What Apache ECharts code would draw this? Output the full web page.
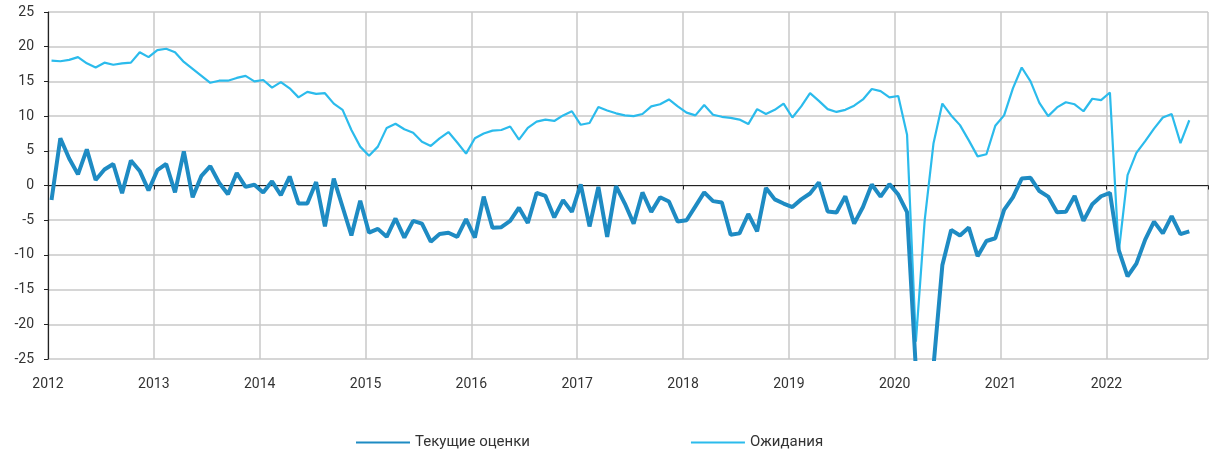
<!DOCTYPE html>
<html>
<head>
	<meta charset="utf-8" />
	<title>Индекс бизнес-климата</title>
	<script src="https://cdn.jsdelivr.net/npm/echarts@6/dist/echarts.min.js"></script>
	<style>
		html, body { margin: 0; padding: 0; background: #fff; }
		#chart { width: 1211px; height: 452px; }
	</style>
</head>
<body>
<div id="chart"></div>
<script type="text/javascript">
	// месячные данные, январь 2012 - октябрь 2022
	var startYear = 2012;
	var yearTicks = ['2012','2013','2014','2015','2016','2017','2018','2019','2020','2021','2022'];

	var current = [
		-2.1, 6.8, 3.9, 1.6, 5.2, 0.8, 2.3, 3.1, -1.1, 3.6, 2.1, -0.7,
		2.2, 3.1, -1.0, 4.9, -1.7, 1.4, 2.8, 0.4, -1.25, 1.8, -0.2, 0.1,
		-1.0, 0.6, -1.4, 1.3, -2.6, -2.6, 0.5, -5.9, 1.0, -3.1, -7.2, -2.2,
		-6.8, -6.25, -7.4, -4.75, -7.5, -5.1, -5.5, -8.1, -7.0, -6.8, -7.4, -4.85,
		-7.5, -1.6, -6.1, -6.0, -5.1, -3.2, -5.4, -1.05, -1.5, -4.6, -2.1, -3.8,
		0.15, -5.9, -0.2, -7.4, -0.1, -2.6, -5.5, -1.0, -3.8, -1.7, -2.3, -5.2,
		-5.0, -3.0, -1.0, -2.25, -2.45, -7.1, -6.9, -4.1, -6.6, -0.35, -2.0, -2.6,
		-3.1, -2.0, -1.15, 0.45, -3.75, -3.9, -1.55, -5.5, -3.1, 0.15, -1.6, 0.2,
		-1.3, -3.85, -26.5, -31, -26, -11.5, -6.4, -7.2, -6.05, -10.2, -8.0, -7.6,
		-3.5, -1.7, 1.0, 1.1, -0.8, -1.6, -3.85, -3.8, -1.5, -5.1, -2.7, -1.55,
		-1.05, -9.3, -13.1, -11.25, -7.8, -5.2, -6.9, -4.4, -7.0, -6.6
	];

	var expectations = [
		18.0, 17.9, 18.1, 18.5, 17.6, 17.0, 17.7, 17.4, 17.6, 17.7, 19.2, 18.5,
		19.5, 19.7, 19.2, 17.8, 16.8, 15.8, 14.8, 15.1, 15.1, 15.5, 15.8, 15.0,
		15.2, 14.1, 14.9, 14.0, 12.7, 13.5, 13.2, 13.3, 11.8, 10.9, 8.0, 5.6,
		4.3, 5.6, 8.3, 8.9, 8.1, 7.6, 6.3, 5.7, 6.8, 7.7, 6.2, 4.6,
		6.8, 7.5, 7.9, 8.0, 8.5, 6.6, 8.3, 9.2, 9.5, 9.3, 10.1, 10.7,
		8.75, 9.0, 11.3, 10.8, 10.4, 10.1, 10.0, 10.3, 11.4, 11.7, 12.4, 11.4,
		10.5, 10.1, 11.6, 10.2, 9.9, 9.75, 9.5, 8.85, 11.0, 10.3, 10.9, 11.8,
		9.8, 11.4, 13.3, 12.2, 11.0, 10.6, 10.9, 11.5, 12.4, 13.9, 13.6, 12.7,
		12.9, 7.3, -22.5, -5.0, 6.1, 11.8, 10.1, 8.7, 6.5, 4.2, 4.5, 8.6,
		10.1, 14.0, 17.0, 15.0, 11.9, 10.0, 11.25, 12.0, 11.7, 10.7, 12.5, 12.3,
		13.4, -9.6, 1.5, 4.7, 6.4, 8.2, 9.8, 10.3, 6.1, 9.4
	];

	// дата наблюдения -> дробный год (середина месяца)
	function toYear(i) {
		return startYear + (i + 0.4) / 12;
	}
	function pairs(arr) {
		var out = [];
		for (var i = 0; i < arr.length; i++) out.push([toYear(i), arr[i]]);
		return out;
	}

	var font = 'Roboto';
	var xMin = startYear, xMax = 2022.96;

	var myChart = echarts.init(document.getElementById('chart'));
	var option = {
		animation: false,
		textStyle: { fontFamily: font },
		grid: { left: 48, right: 0, top: 12, bottom: 93 },
		legend: {
			left: 350,
			top: 430,
			itemWidth: 54,
			itemHeight: 14,
			itemGap: 160,
			itemStyle: { opacity: 0 },
			textStyle: { fontFamily: font, fontSize: 15, color: '#333' },
			data: ['Текущие оценки', 'Ожидания']
		},
		xAxis: [
			{
				type: 'value',
				min: xMin,
				max: xMax,
				interval: 1,
				axisLine: { show: false, onZero: false },
				axisTick: { show: false },
				axisLabel: {
					fontSize: 14, color: '#333', margin: 18,
					formatter: function (v) {
						var s = String(Math.round(v));
						return yearTicks.indexOf(s) >= 0 && Math.abs(v - Math.round(v)) < 1e-6 ? s : '';
					}
				},
				splitLine: { show: true, lineStyle: { color: '#c8c8c8', width: 1.5 } }
			},
			{
				// линия нуля с засечками по годам
				type: 'value',
				position: 'top',
				min: xMin,
				max: xMax,
				interval: 1,
				axisLine: { show: true, onZero: true, lineStyle: { color: '#222', width: 1.2 } },
				axisTick: { show: true, inside: true, length: 4, lineStyle: { color: '#222' } },
				axisLabel: { show: false },
				splitLine: { show: false }
			}
		],
		yAxis: {
			type: 'value',
			min: -25,
			max: 25,
			interval: 5,
			axisLine: { show: true, onZero: false, lineStyle: { color: '#222', width: 1.2 } },
			axisTick: { show: true, length: 4, lineStyle: { color: '#222' } },
			axisLabel: { fontSize: 14, color: '#333', margin: 14 },
			splitLine: { show: true, lineStyle: { color: '#c8c8c8', width: 1.5 } }
		},
		series: [
			{
				name: 'Текущие оценки',
				type: 'line',
				symbol: 'none',
				clip: true,
				data: pairs(current),
				lineStyle: { color: '#1e8bc3', width: 4 },
				itemStyle: { color: '#1e8bc3' },
				z: 3
			},
			{
				name: 'Ожидания',
				type: 'line',
				symbol: 'none',
				clip: true,
				data: pairs(expectations),
				lineStyle: { color: '#2bbbec', width: 2.2 },
				itemStyle: { color: '#2bbbec' },
				z: 2
			}
		]
	};
	myChart.setOption(option);
</script>
</body>
</html>
